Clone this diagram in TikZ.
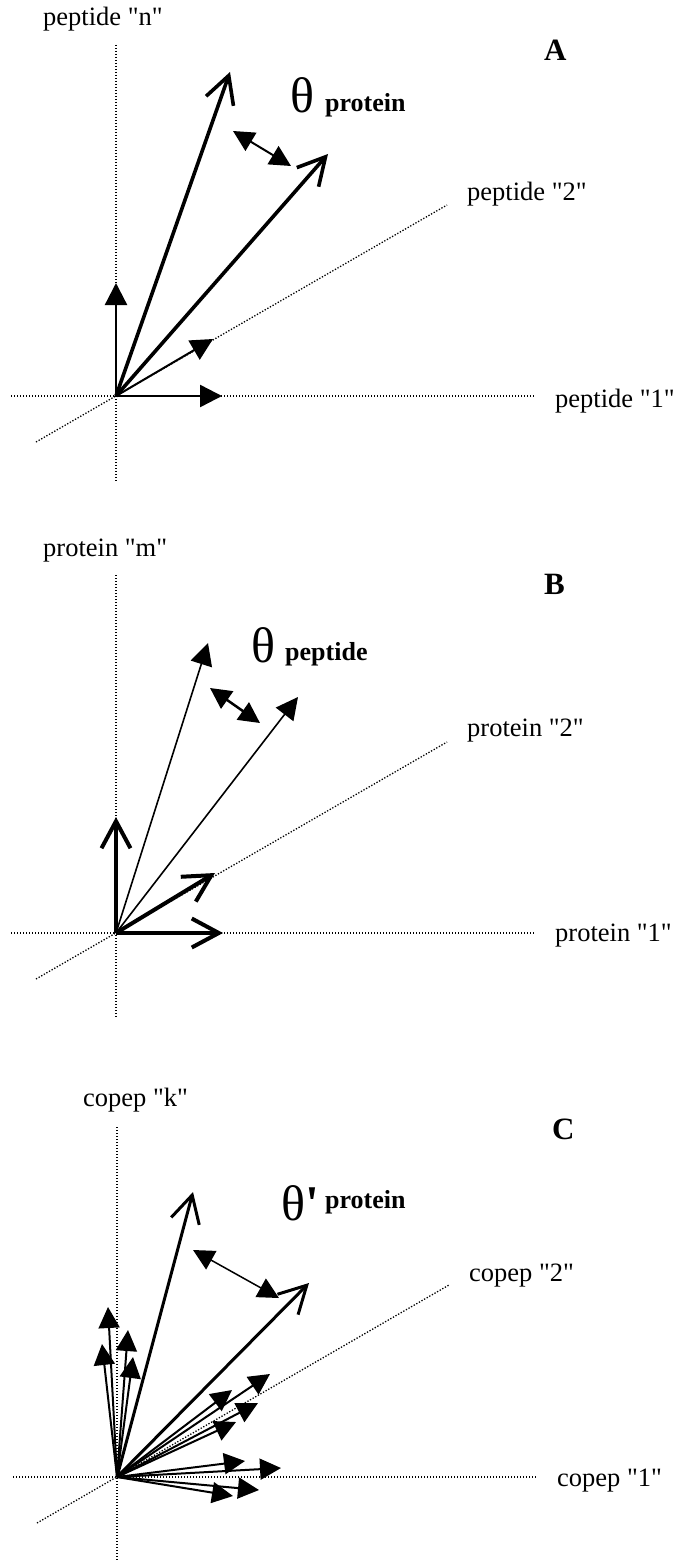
\documentclass[tikz,border=0pt]{standalone}
\usepackage{fontspec}
\setmainfont{Liberation Serif}[Ligatures=TeXOff]
\usetikzlibrary{arrows.meta}
\begin{document}
\begin{tikzpicture}[x=1pt,y=-1pt,
  axis/.style={line width=1.3pt, dash pattern=on 1.3pt off 1.7pt},
  lab/.style={anchor=base west, inner sep=0pt, font=\fontsize{26.5}{30}\selectfont},
  panel/.style={anchor=base west, inner sep=0pt, font=\fontsize{31}{34}\selectfont\bfseries},
  theta/.style={anchor=base west, inner sep=0pt, font=\fontsize{50}{52}\selectfont},
  sub/.style={anchor=base west, inner sep=0pt, font=\fontsize{26}{30}\selectfont\bfseries},
  fillhead/.style={-{Triangle[length=22pt,width=22pt]}},
  smallhead/.style={-{Triangle[length=21pt,width=21pt]}},
  openhead/.style={-{Straight Barb[length=27pt,width=29pt]}},
  dblhead/.style={{Triangle[length=21pt,width=21pt]}-{Triangle[length=21pt,width=21pt]}},
]
\useasboundingbox (0,0) rectangle (678,1562);

% ---------- Panel A ----------
\coordinate (oA) at (116,396);
\coordinate (aAv1) at (116,45);  \coordinate (aAv2) at (116,482);
\coordinate (aAh1) at (11,396);  \coordinate (aAh2) at (535,396);
\coordinate (aAd1) at (36,442);  \coordinate (aAd2) at (447,205);
\draw[axis] (aAv1) -- (aAv2);
\draw[axis] (aAh1) -- (aAh2);
\draw[axis] (aAd1) -- (aAd2);
\coordinate (tA1) at (116,283);
\coordinate (tA2) at (222,396);
\coordinate (tA3) at (213,339);
\coordinate (tA4) at (230,72);
\coordinate (tA5) at (328,154);
\coordinate (dA1) at (233,131);
\coordinate (dA2) at (291,166);
\draw[fillhead, line width=2.3pt] (oA) -- (tA1);
\draw[fillhead, line width=2.5pt] (oA) -- (tA2);
\draw[fillhead, line width=2pt] (oA) -- (tA3);
\draw[openhead, line width=3.6pt] (oA) -- (tA4);
\draw[openhead, line width=3.6pt] (oA) -- (tA5);
\draw[dblhead, line width=2pt] (dA1) -- (dA2);
\node[lab] (lnA) at (43,26) {peptide "n"};
\node[lab] (l2A) at (467,201) {peptide "2"};
\node[lab] (l1A) at (555,407) {peptide "1"};
\node[panel] (pA) at (544,61) {A};
\node[theta] (thA) at (290,113) {θ};
\node[sub] (sA) at (325,112) {protein};

% ---------- Panel B ----------
\coordinate (oB) at (116,933);
\coordinate (aBv1) at (116,575);  \coordinate (aBv2) at (116,1018);
\coordinate (aBh1) at (11,933);   \coordinate (aBh2) at (535,933);
\coordinate (aBd1) at (36,979);   \coordinate (aBd2) at (447,742);
\draw[axis] (aBv1) -- (aBv2);
\draw[axis] (aBh1) -- (aBh2);
\draw[axis] (aBd1) -- (aBd2);
\coordinate (tB1) at (116,817);
\coordinate (tB2) at (223,933);
\coordinate (tB3) at (215,873);
\coordinate (tB4) at (208,643);
\coordinate (tB5) at (298,697);
\coordinate (dB1) at (210,688);
\coordinate (dB2) at (260,723);
\draw[openhead, line width=4pt] (oB) -- (tB1);
\draw[openhead, line width=4pt] (oB) -- (tB2);
\draw[openhead, line width=4pt] (oB) -- (tB3);
\draw[fillhead, line width=1.6pt] (oB) -- (tB4);
\draw[fillhead, line width=1.6pt] (oB) -- (tB5);
\draw[dblhead, line width=2.5pt] (dB1) -- (dB2);
\node[lab] (lmB) at (43,556) {protein "m"};
\node[lab] (l2B) at (467,736) {protein "2"};
\node[lab] (l1B) at (555,941) {protein "1"};
\node[panel] (pB) at (544,594) {B};
\node[theta] (thB) at (251,662) {θ};
\node[sub] (sB) at (285,660) {peptide};

% ---------- Panel C ----------
\coordinate (oC) at (117,1477);
\coordinate (aCv1) at (117,1127);  \coordinate (aCv2) at (117,1562);
\coordinate (aCh1) at (13,1477);   \coordinate (aCh2) at (536,1477);
\coordinate (aCd1) at (37,1523);   \coordinate (aCd2) at (449,1285);
\draw[axis] (aCv1) -- (aCv2);
\draw[axis] (aCh1) -- (aCh2);
\draw[axis] (aCd1) -- (aCd2);
\coordinate (tC1) at (193,1192);
\coordinate (tC2) at (309,1283);
\coordinate (dC1) at (193,1250);
\coordinate (dC2) at (279,1298);
\draw[openhead, line width=3pt] (oC) -- (tC1);
\draw[openhead, line width=3pt] (oC) -- (tC2);
\draw[dblhead, line width=1.5pt] (dC1) -- (dC2);
\foreach \n/\x/\y in {s1/108/1307, s2/102/1344, s3/128/1330, s4/133/1357,
                      s5/270/1374, s6/232/1390, s7/258/1403, s8/236/1422,
                      s9/245/1461, s10/281/1468, s11/259/1490, s12/233/1496}{
  \coordinate (\n) at (\x,\y);
  \draw[smallhead, line width=2pt] (oC) -- (\n);
}
\node[lab] (lkC) at (83,1106) {copep "k"};
\node[lab] (l2C) at (469,1281) {copep "2"};
\node[lab] (l1C) at (557,1486) {copep "1"};
\node[panel] (pC) at (552,1139) {C};
\node[theta] (thC) at (281,1220) {θ\textbf{\textquotesingle}};
\node[sub] (sC) at (325,1208) {protein};
\end{tikzpicture}
\end{document}
